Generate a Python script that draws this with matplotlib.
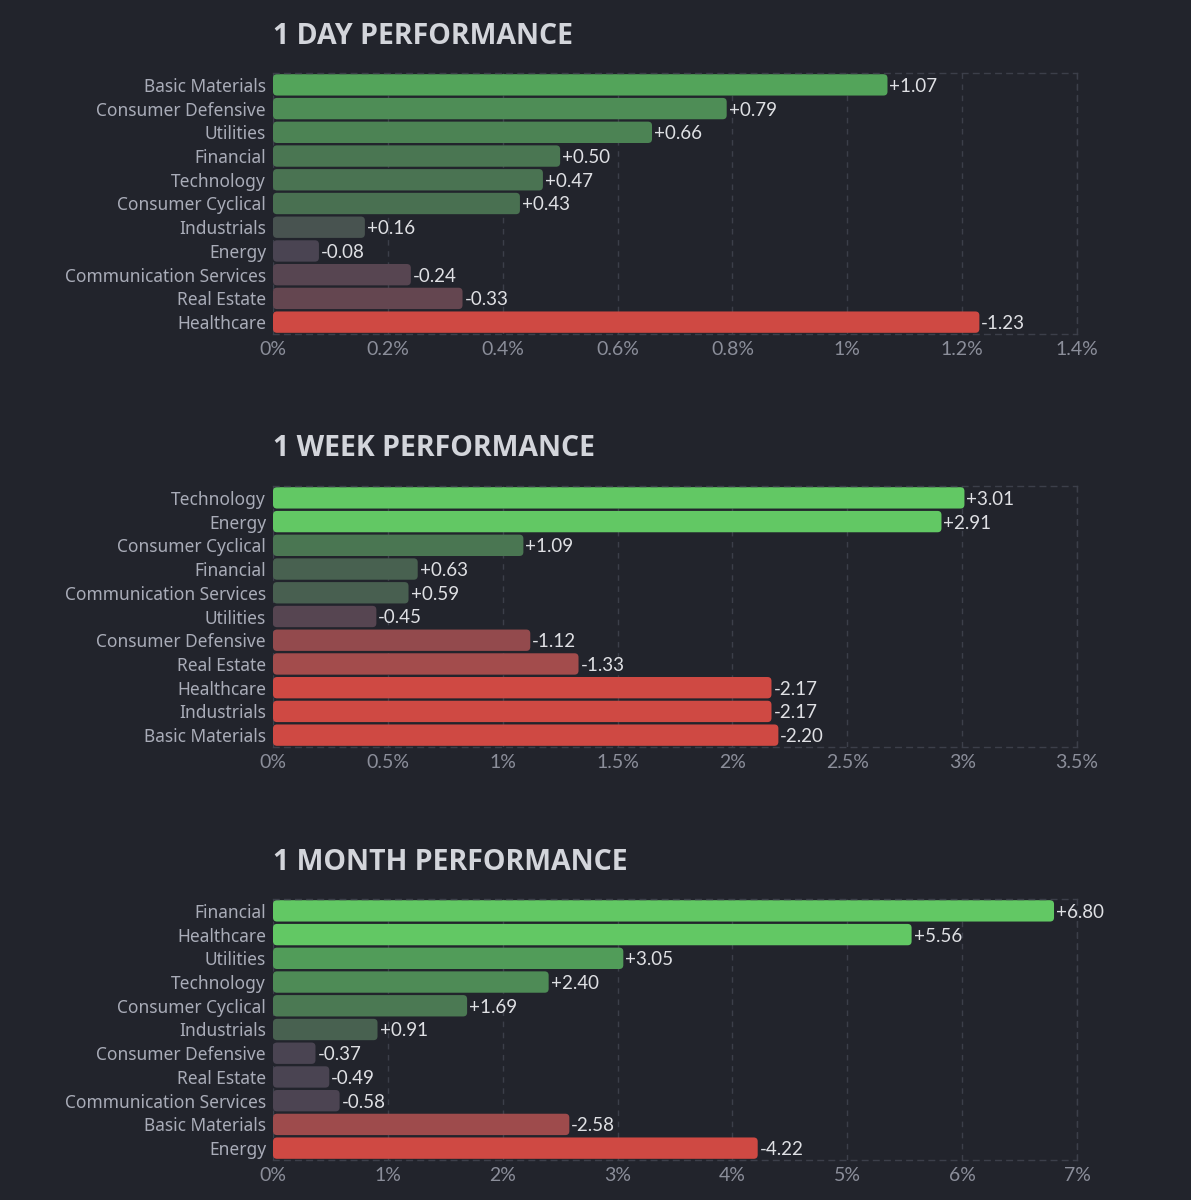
import numpy as np
import matplotlib
matplotlib.use("Agg")
import matplotlib.pyplot as plt
from matplotlib.colors import LinearSegmentedColormap
from matplotlib.patches import FancyBboxPatch
from matplotlib.ticker import FuncFormatter, MultipleLocator

# data
day_sectors = ["Basic Materials", "Consumer Defensive", "Utilities", "Financial", "Technology",
               "Consumer Cyclical", "Industrials", "Energy", "Communication Services",
               "Real Estate", "Healthcare"]
day_values = [1.07, 0.79, 0.66, 0.50, 0.47, 0.43, 0.16, -0.08, -0.24, -0.33, -1.23]

week_sectors = ["Technology", "Energy", "Consumer Cyclical", "Financial", "Communication Services",
                "Utilities", "Consumer Defensive", "Real Estate", "Healthcare", "Industrials",
                "Basic Materials"]
week_values = [3.01, 2.91, 1.09, 0.63, 0.59, -0.45, -1.12, -1.33, -2.17, -2.17, -2.20]

month_sectors = ["Financial", "Healthcare", "Utilities", "Technology", "Consumer Cyclical",
                 "Industrials", "Consumer Defensive", "Real Estate", "Communication Services",
                 "Basic Materials", "Energy"]
month_values = [6.80, 5.56, 3.05, 2.40, 1.69, 0.91, -0.37, -0.49, -0.58, -2.58, -4.22]

# style
BG = "#22242c"
GRID = "#3c3f4a"
pos_cmap = LinearSegmentedColormap.from_list("pos", [
    (0.0, "#4a4452"), (0.15, "#48574f"), (0.3, "#496e51"), (0.6, "#4e8e56"),
    (0.8, "#53a45a"), (1.0, "#62c864")])
neg_cmap = LinearSegmentedColormap.from_list("neg", [
    (0.0, "#4a4452"), (0.12, "#4a4452"), (0.3, "#5e4551"), (0.5, "#8a494d"),
    (0.7, "#a84c4c"), (1.0, "#cf4943")])

# title, sectors, values, xmax, tick step, pos scale, neg scale, top px
panels = [
    ("1 DAY PERFORMANCE", day_sectors, day_values, 1.4, 0.2, 1.34, 1.0, 73),
    ("1 WEEK PERFORMANCE", week_sectors, week_values, 3.5, 0.5, 2.9, 2.0, 486),
    ("1 MONTH PERFORMANCE", month_sectors, month_values, 7.0, 1.0, 4.2, 4.1, 899),
]

W, H = 1191, 1200
fig = plt.figure(figsize=(W / 100, H / 100), dpi=100, facecolor=BG)

ax_left, ax_w, ax_h = 273, 804, 261

def bar_color(v, ps, ns):
    if v >= 0:
        return pos_cmap(min(v / ps, 1.0))
    return neg_cmap(min(-v / ns, 1.0))

for title, sectors, values, xmax, step, ps, ns, top in panels:
    ax = fig.add_axes([ax_left / W, 1 - (top + ax_h) / H, ax_w / W, ax_h / H])
    ax.set_facecolor(BG)
    n = len(sectors)
    y = np.arange(n)
    mags = np.abs(values)
    bars = ax.barh(y, mags, height=0.9, color=[bar_color(v, ps, ns) for v in values], zorder=2)
    ax.set_xlim(0, xmax)
    ax.set_ylim(n - 0.5, -0.5)

    # swap the plain rectangles for rounded ones
    xpp = xmax / ax_w
    ypp = n / ax_h
    r = 4 * xpp
    for rect in bars:
        fb = FancyBboxPatch((rect.get_x(), rect.get_y()), rect.get_width(), rect.get_height(),
                            boxstyle=f"round,pad=0,rounding_size={r}",
                            mutation_aspect=ypp / xpp,
                            fc=rect.get_facecolor(), ec="none", zorder=2)
        ax.add_patch(fb)
        rect.remove()

    for i, v in enumerate(values):
        ax.text(abs(v) + 2 * xpp, i + 0.06, f"{v:+.2f}", va="center", ha="left",
                color="#dfe0e4", fontsize=13.5, family="Lato", zorder=3)

    ax.xaxis.set_major_locator(MultipleLocator(step))
    ax.xaxis.set_major_formatter(FuncFormatter(lambda x, p: f"{x:g}%"))
    ax.set_yticks(y)
    ax.set_yticklabels(sectors, fontsize=12.5, color="#a9acb8", family="Noto Sans")
    for lab in ax.get_xticklabels():
        lab.set_family("Lato")
    ax.tick_params(axis="x", colors="#8b8e9a", labelsize=14, length=0, pad=5)
    ax.tick_params(axis="y", length=0, pad=5)
    ax.grid(axis="x", color=GRID, linestyle=(0, (4, 4)), lw=1, zorder=0)
    ax.set_axisbelow(True)
    for s in ["top", "right", "bottom"]:
        ax.spines[s].set_color(GRID)
        ax.spines[s].set_linestyle((0, (4, 4)))
        ax.spines[s].set_linewidth(1)
    ax.spines["left"].set_visible(False)

    fig.text(ax_left / W, 1 - (top - 37) / H, title, ha="left", va="center",
             fontsize=20.5, fontweight="bold", color="#d3d5db", family="Open Sans")

fig.savefig("out.png", dpi=100, facecolor=BG)
